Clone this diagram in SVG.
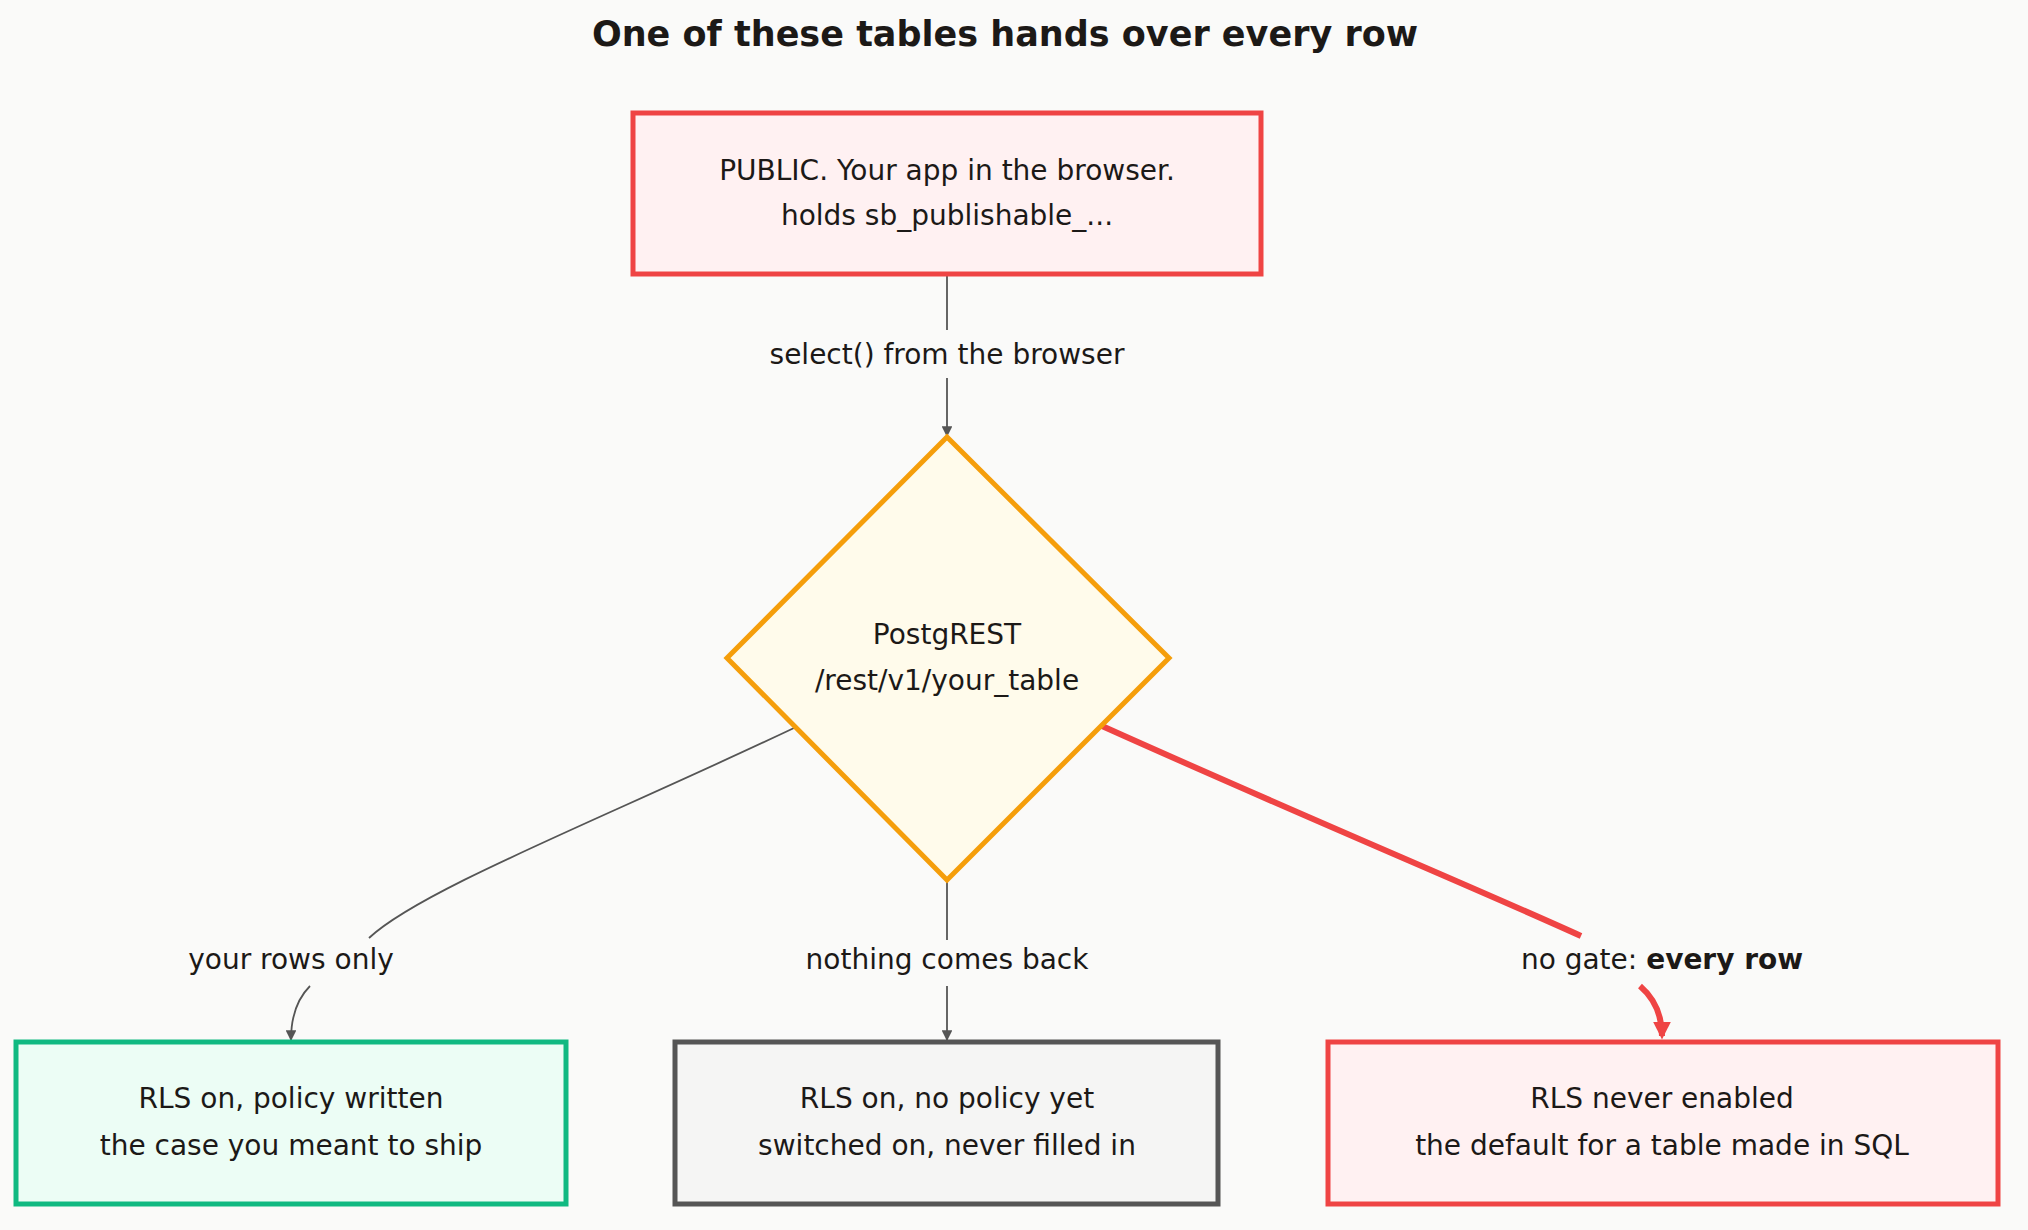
<svg xmlns="http://www.w3.org/2000/svg" width="2028" height="1230" viewBox="0 0 2028 1230">
<style>
text{font-family:"DejaVu Sans","Noto Sans",sans-serif;fill:#1c1917;font-size:28px;text-anchor:middle}
.t{font-weight:bold;font-size:35px}
.e{fill:none;stroke:#555;stroke-width:1.8}
.r{fill:none;stroke:#ef4444;stroke-width:6}
</style>
<defs>
<marker id="a" viewBox="0 0 10 10" refX="9" refY="5" markerWidth="6" markerHeight="6" orient="auto"><path d="M0,0L10,5L0,10z" fill="#555"/></marker>
<marker id="ar" viewBox="0 0 10 10" refX="8" refY="5" markerWidth="3" markerHeight="3" orient="auto"><path d="M0,0L10,5L0,10z" fill="#ef4444"/></marker>
</defs>
<rect width="2028" height="1230" fill="#fafaf9"/>
<text class="t" x="1005" y="46">One of these tables hands over every row</text>
<g id="edges">
<path class="e" d="M947,274V330"/><path class="e" d="M947,378V436" marker-end="url(#a)"/>
<text x="947" y="364">select() from the browser</text>
<path class="e" d="M794,728C600,820 420,890 369,938"/>
<path class="e" d="M310,986Q291,1005 291,1040" marker-end="url(#a)"/>
<text x="291" y="969">your rows only</text>
<path class="e" d="M947,880V940"/><path class="e" d="M947,986V1040" marker-end="url(#a)"/>
<text x="947" y="969">nothing comes back</text>
<path class="r" d="M1102,726C1300,815 1480,890 1581,936"/>
<path class="r" d="M1640,986Q1662,1005 1662,1036" marker-end="url(#ar)"/>
<text x="1662" y="969">no gate: <tspan font-weight="bold">every row</tspan></text>
</g>
<g id="public"><rect x="633" y="113" width="628" height="161" fill="#fff1f2" stroke="#ef4444" stroke-width="5"/>
<text x="947" y="180">PUBLIC. Your app in the browser.</text><text x="947" y="225">holds sb_publishable_...</text></g>
<g id="postgrest"><path d="M947,437L1169,658L947,880L727,658Z" fill="#fffbeb" stroke="#f59e0b" stroke-width="5"/>
<text x="947" y="644">PostgREST</text><text x="947" y="690">/rest/v1/your_table</text></g>
<g id="ok"><rect x="16" y="1042" width="550" height="162" fill="#ecfdf5" stroke="#10b981" stroke-width="5"/>
<text x="291" y="1108">RLS on, policy written</text><text x="291" y="1155">the case you meant to ship</text></g>
<g id="empty"><rect x="675" y="1042" width="543" height="162" fill="#f5f5f4" stroke="#555" stroke-width="5"/>
<text x="947" y="1108">RLS on, no policy yet</text><text x="947" y="1155">switched on, never filled in</text></g>
<g id="open"><rect x="1328" y="1042" width="670" height="162" fill="#fff1f2" stroke="#ef4444" stroke-width="5"/>
<text x="1662" y="1108">RLS never enabled</text><text x="1662" y="1155">the default for a table made in SQL</text></g>
</svg>
